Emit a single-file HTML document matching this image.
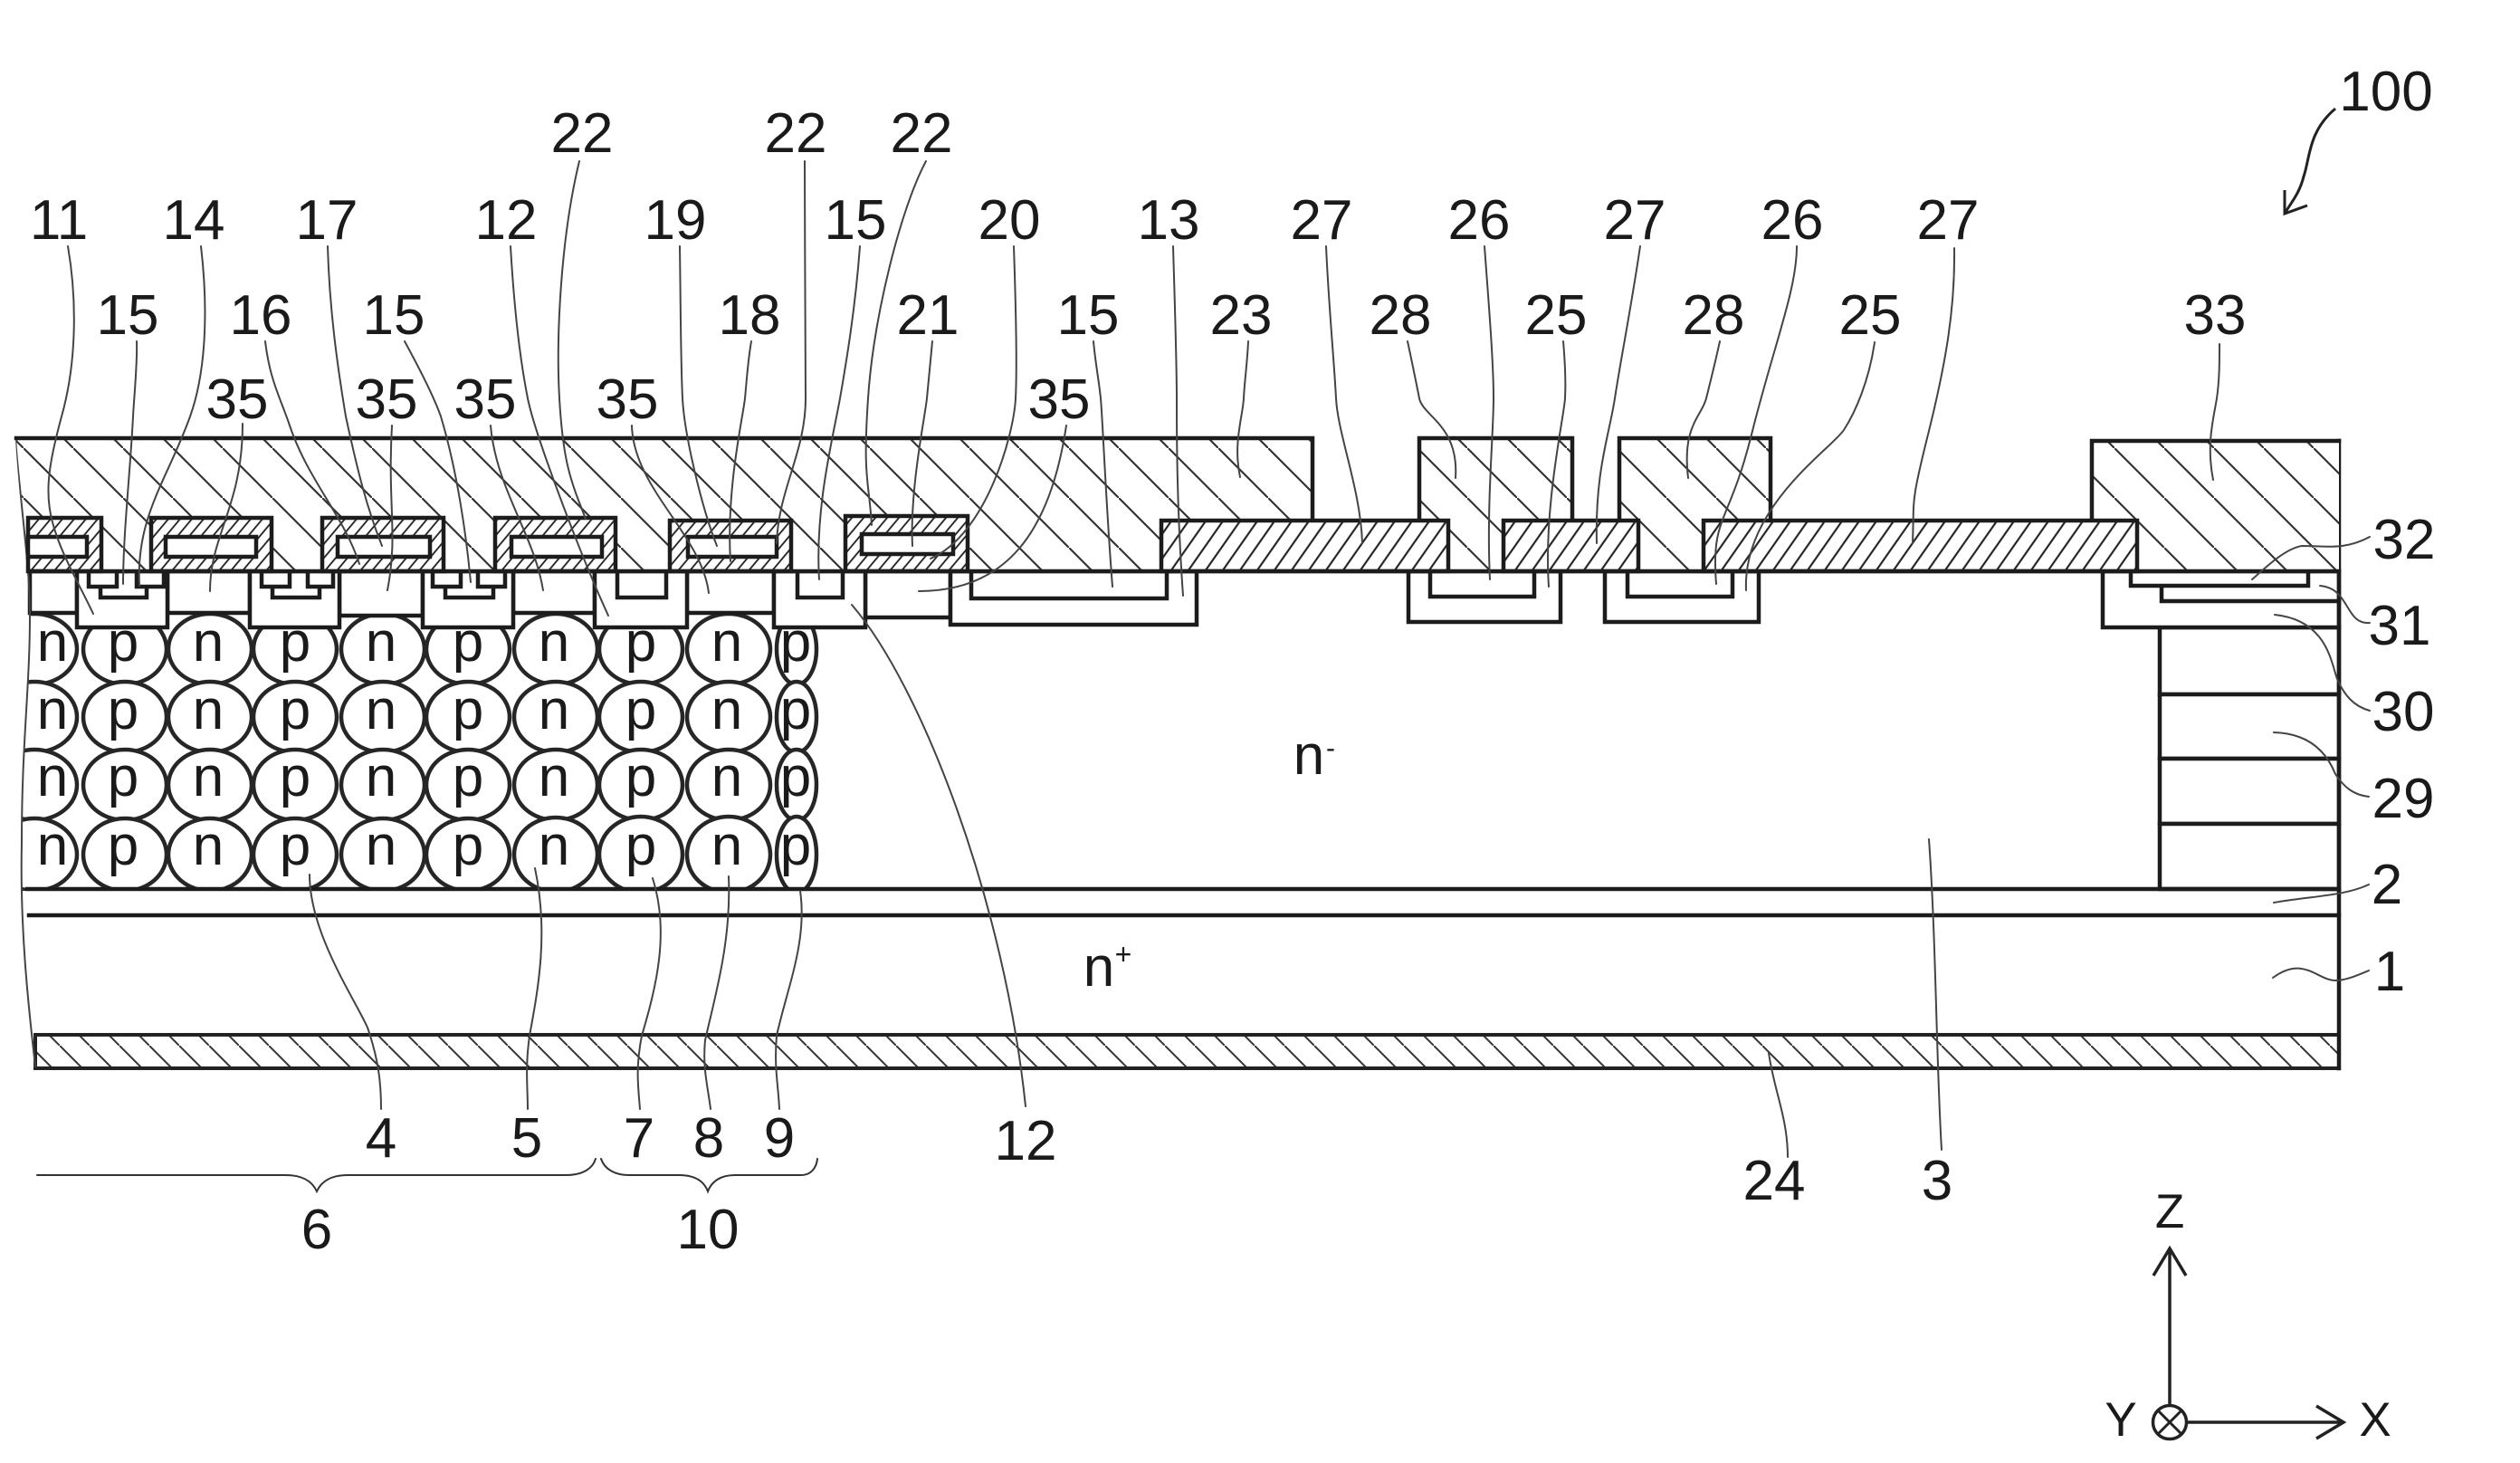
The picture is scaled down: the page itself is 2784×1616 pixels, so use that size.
<!DOCTYPE html>
<html>
<head>
<meta charset="utf-8">
<title>Semiconductor device cross-section</title>
<style>
html,body{margin:0;padding:0;background:#fff}
svg{display:block}
text{font-family:"Liberation Sans",sans-serif;fill:#1a1a1a}
.l{font-size:62px;text-anchor:middle}
.c{font-size:62px;text-anchor:middle}
.a{font-size:53px;text-anchor:middle}
.m{fill:none;stroke:#1c1c1c;stroke-width:4.5;stroke-linecap:square}
.t{fill:none;stroke:#444;stroke-width:2;stroke-linecap:round}
.b{fill:#fff;stroke:#1c1c1c;stroke-width:4.5}
.o{fill:#fff;stroke:#262626;stroke-width:4.5}
</style>
</head>
<body>
<svg xmlns="http://www.w3.org/2000/svg" width="2784" height="1616" viewBox="0 0 2784 1616">
<defs>
<pattern id="h1" patternUnits="userSpaceOnUse" width="55" height="55" patternTransform="translate(26,0)">
<rect width="55" height="55" fill="#fff"/>
<path d="M-5,-5 L60,60" stroke="#333" stroke-width="2.2"/>
</pattern>
<pattern id="h2" patternUnits="userSpaceOnUse" width="19" height="19" patternTransform="skewX(-35)">
<rect width="19" height="19" fill="#fff"/>
<path d="M6,-1 V20" stroke="#222" stroke-width="2.6"/>
</pattern>
<pattern id="h3" patternUnits="userSpaceOnUse" width="13" height="13" patternTransform="skewX(-40)">
<rect width="13" height="13" fill="#fff"/>
<path d="M4,-1 V14" stroke="#222" stroke-width="2.4"/>
</pattern>
<pattern id="h4" patternUnits="userSpaceOnUse" width="33" height="33">
<rect width="33" height="33" fill="#fff"/>
<path d="M-3,-3 L36,36" stroke="#333" stroke-width="2"/>
</pattern>
</defs>
<rect width="2784" height="1616" fill="#fff"/>

<!-- super-junction circles -->
<g class="o">
<ellipse class="o" cx="38" cy="717" rx="47" ry="39"/><ellipse class="o" cx="138" cy="717" rx="46" ry="39"/><ellipse class="o" cx="232" cy="717" rx="46" ry="39"/><ellipse class="o" cx="326" cy="717" rx="46" ry="39"/><ellipse class="o" cx="423" cy="717" rx="46" ry="39"/><ellipse class="o" cx="517" cy="717" rx="46" ry="39"/><ellipse class="o" cx="614" cy="717" rx="46" ry="39"/><ellipse class="o" cx="708" cy="717" rx="46" ry="39"/><ellipse class="o" cx="805" cy="717" rx="46" ry="39"/><ellipse class="o" cx="880" cy="717" rx="22" ry="39"/>
<ellipse class="o" cx="38" cy="792" rx="47" ry="39"/><ellipse class="o" cx="138" cy="792" rx="46" ry="39"/><ellipse class="o" cx="232" cy="792" rx="46" ry="39"/><ellipse class="o" cx="326" cy="792" rx="46" ry="39"/><ellipse class="o" cx="423" cy="792" rx="46" ry="39"/><ellipse class="o" cx="517" cy="792" rx="46" ry="39"/><ellipse class="o" cx="614" cy="792" rx="46" ry="39"/><ellipse class="o" cx="708" cy="792" rx="46" ry="39"/><ellipse class="o" cx="805" cy="792" rx="46" ry="39"/><ellipse class="o" cx="880" cy="792" rx="22" ry="39"/>
<ellipse class="o" cx="38" cy="867" rx="47" ry="39"/><ellipse class="o" cx="138" cy="867" rx="46" ry="39"/><ellipse class="o" cx="232" cy="867" rx="46" ry="39"/><ellipse class="o" cx="326" cy="867" rx="46" ry="39"/><ellipse class="o" cx="423" cy="867" rx="46" ry="39"/><ellipse class="o" cx="517" cy="867" rx="46" ry="39"/><ellipse class="o" cx="614" cy="867" rx="46" ry="39"/><ellipse class="o" cx="708" cy="867" rx="46" ry="39"/><ellipse class="o" cx="805" cy="867" rx="46" ry="39"/><ellipse class="o" cx="880" cy="867" rx="22" ry="39"/>
<ellipse class="o" cx="38" cy="944" rx="47" ry="40"/><ellipse class="o" cx="138" cy="944" rx="46" ry="40"/><ellipse class="o" cx="232" cy="944" rx="46" ry="40"/><ellipse class="o" cx="326" cy="944" rx="46" ry="40"/><ellipse class="o" cx="423" cy="944" rx="46" ry="40"/><ellipse class="o" cx="517" cy="944" rx="46" ry="40"/><ellipse class="o" cx="614" cy="944" rx="46" ry="41"/><ellipse class="o" cx="708" cy="944" rx="46" ry="42"/><ellipse class="o" cx="805" cy="944" rx="46" ry="42"/><ellipse class="o" cx="880" cy="944" rx="22" ry="42"/>
</g>

<!-- left mask -->
<path d="M0,470 H18 C22,560 33,620 33,680 C33,760 24,820 24,930 C22,1020 30,1100 39,1178 V1200 H0 Z" fill="#fff"/>
<rect x="24" y="984" width="2560" height="26" fill="#fff"/>

<!-- body blocks -->
<rect class="b" x="33" y="631" width="52" height="46"/>
<rect class="b" x="185" y="631" width="91" height="46"/>
<rect class="b" x="375" y="631" width="92" height="49"/>
<rect class="b" x="567" y="631" width="90" height="46"/>
<rect class="b" x="759" y="631" width="96" height="46"/>
<rect class="b" x="956" y="631" width="94" height="51"/>
<rect class="b" x="85" y="631" width="100" height="62"/>
<rect class="b" x="276" y="631" width="99" height="62"/>
<rect class="b" x="467" y="631" width="100" height="62"/>
<rect class="b" x="657" y="631" width="102" height="62"/>
<rect class="b" x="855" y="631" width="101" height="62"/>
<rect class="b" x="1050" y="631" width="272" height="59"/>
<rect class="b" x="1073" y="631" width="216" height="30"/>
<rect class="b" x="1556" y="631" width="168" height="56"/>
<rect class="b" x="1580" y="631" width="115" height="28"/>
<rect class="b" x="1773" y="631" width="170" height="56"/>
<rect class="b" x="1798" y="631" width="116" height="28"/>
<rect class="b" x="682" y="631" width="54" height="29"/>
<rect class="b" x="881" y="631" width="50" height="29"/>

<!-- source contact regions -->
<path class="m" d="M98,631 V648 H129 V631 M151,631 V648 H181 V631 M111,648 V660 H162 V648"/>
<path class="m" d="M289,631 V648 H320 V631 M340,631 V648 H368 V631 M301,648 V660 H353 V648"/>
<path class="m" d="M478,631 V648 H509 V631 M528,631 V648 H558 V631 M492,648 V660 H545 V648"/>

<!-- right termination -->
<rect class="b" x="2386" y="693" width="198" height="74"/>
<rect class="b" x="2386" y="767" width="198" height="71"/>
<rect class="b" x="2386" y="838" width="198" height="72"/>
<rect class="b" x="2386" y="910" width="198" height="72"/>
<rect class="b" x="2323" y="631" width="261" height="62"/>
<path class="m" d="M2354,631 V647 H2550 V631 M2388,647 V664 H2584"/>

<!-- layers -->
<path class="m" d="M30,982 H2584 M32,1011 H2584"/>
<rect x="39" y="1143" width="2545" height="37" fill="url(#h4)" stroke="#222" stroke-width="4"/>
<path d="M2584,487 V1180" class="m" stroke-width="5"/>
<path class="t" d="M18,484 C22,560 33,620 33,680 C33,760 24,820 24,930 C22,1020 30,1100 39,1178" stroke-width="2.4"/>

<!-- electrode 23 and metal -->
<path d="M18,484 H1450 V575 H1283 V631 H33 C31,600 22,540 18,484 Z" fill="url(#h1)"/>
<path class="m" d="M18,484 H1450 V575"/>
<path d="M1568,484 H1737 V575 H1661 V631 H1600 V575 H1568 Z" fill="url(#h1)"/>
<path class="m" d="M1568,575 V484 H1737 V575"/>
<path d="M1789,484 H1956 V575 H1882 V631 H1810 V575 H1789 Z" fill="url(#h1)"/>
<path class="m" d="M1789,575 V484 H1956 V575"/>
<path d="M2311,487 H2584 V631 H2361 V575 H2311 Z" fill="url(#h1)"/>
<path class="m" d="M2311,575 V487 H2584"/>

<!-- hatched 27 -->
<rect x="1283" y="575" width="317" height="56" fill="url(#h2)" stroke="#1c1c1c" stroke-width="4.5"/>
<rect x="1661" y="575" width="149" height="56" fill="url(#h2)" stroke="#1c1c1c" stroke-width="4.5"/>
<rect x="1882" y="575" width="479" height="56" fill="url(#h2)" stroke="#1c1c1c" stroke-width="4.5"/>

<!-- gates -->
<g stroke="#1c1c1c" stroke-width="4.5">
<path d="M31,631 V572 H112 V631 Z" fill="url(#h3)"/><rect x="31" y="593" width="65" height="22" fill="#fff"/>
<rect x="167" y="572" width="133" height="59" fill="url(#h3)"/><rect x="183" y="593" width="100" height="22" fill="#fff"/>
<rect x="356" y="572" width="134" height="59" fill="url(#h3)"/><rect x="373" y="593" width="102" height="22" fill="#fff"/>
<rect x="547" y="572" width="133" height="59" fill="url(#h3)"/><rect x="565" y="593" width="100" height="22" fill="#fff"/>
<rect x="740" y="575" width="134" height="56" fill="url(#h3)"/><rect x="760" y="593" width="98" height="22" fill="#fff"/>
<rect x="934" y="570" width="135" height="61" fill="url(#h3)"/><rect x="952" y="590" width="101" height="22" fill="#fff"/>
</g>
<path class="m" d="M33,631 H2584"/>

<!-- leader lines -->
<g class="t">
<path d="M75,272 C85,330 85,400 68,460 C52,520 48,550 62,590 C72,620 90,650 103,678"/>
<path d="M151,377 C152,400 148,440 147,460 C144,520 136,590 136,645"/>
<path d="M222,272 C230,340 228,410 210,460 C185,530 150,570 154,647"/>
<path d="M293,377 C298,420 310,440 320,470 C340,530 380,570 397,623"/>
<path d="M362,272 C364,340 372,400 382,460 C395,520 405,560 422,603"/>
<path d="M433,470 C428,560 440,590 428,652"/>
<path d="M447,377 C465,410 480,440 487,460 C505,520 515,590 520,643"/>
<path d="M268,468 C268,560 232,590 232,653"/>
<path d="M542,470 C548,540 590,590 600,652"/>
<path d="M564,272 C568,340 575,400 583,440 S640,610 672,680"/>
<path d="M640,178 C620,260 614,370 618,440 S630,530 647,573"/>
<path d="M698,470 C700,540 775,590 783,655"/>
<path d="M751,272 C752,340 752,400 754,440 S775,560 792,603"/>
<path d="M830,377 C826,400 825,420 823,440 S802,540 807,620"/>
<path d="M889,178 C889,260 890,380 890,440 S860,540 858,600"/>
<path d="M950,272 C945,340 935,400 928,440 S900,560 905,640"/>
<path d="M1023,178 C995,230 965,350 959,440 S960,530 963,580"/>
<path d="M1030,377 C1028,400 1026,420 1024,440 S1005,540 1008,603"/>
<path d="M1120,272 C1122,330 1124,400 1122,440 S1090,590 1028,617"/>
<path d="M1178,470 C1160,590 1110,653 1015,653"/>
<path d="M1208,377 C1210,400 1214,420 1216,440 S1222,560 1229,648"/>
<path d="M1296,272 C1298,340 1300,400 1300,440 S1300,560 1307,658"/>
<path d="M941,668 C1020,760 1110,1000 1133,1222"/>
<path d="M1379,377 C1378,400 1375,420 1374,440 S1362,490 1370,527"/>
<path d="M1465,272 C1468,340 1474,400 1476,440 S1503,540 1505,600"/>
<path d="M1555,377 C1560,400 1564,420 1568,440 S1612,470 1608,528"/>
<path d="M1640,272 C1645,340 1650,400 1650,440 S1642,560 1646,640"/>
<path d="M1727,377 C1729,400 1730,420 1729,440 S1705,560 1711,648"/>
<path d="M1812,272 C1802,340 1790,400 1784,440 S1762,520 1764,600"/>
<path d="M1900,377 C1895,400 1890,420 1885,440 S1858,470 1865,528"/>
<path d="M1985,272 C1985,320 1960,380 1935,480 S1890,570 1896,645"/>
<path d="M2071,378 C2065,420 2050,455 2037,475 S1925,560 1929,652"/>
<path d="M2159,274 C2160,340 2150,400 2130,480 S2115,550 2113,600"/>
<path d="M2452,380 C2452,400 2452,420 2449,440 S2437,490 2445,530"/>
<path d="M2618,593 C2590,608 2570,603 2543,603 C2525,606 2505,625 2488,640"/>
<path d="M2618,688 C2590,690 2597,650 2563,647"/>
<path d="M2513,679 C2570,685 2575,730 2582,750 C2590,768 2600,780 2618,785"/>
<path d="M2512,809 C2550,810 2570,830 2580,855 C2590,870 2600,878 2617,880"/>
<path d="M2512,997 C2550,990 2590,990 2617,977"/>
<path d="M2511,1080 C2545,1055 2560,1083 2580,1083 C2592,1083 2605,1077 2617,1072"/>
<path d="M2131,927 C2139,1040 2139,1170 2145,1270"/>
<path d="M1954,1163 C1960,1205 1975,1235 1975,1278"/>
<path d="M342,966 C342,1030 390,1100 406,1135 C418,1170 421,1195 421,1225"/>
<path d="M591,959 C606,1030 595,1090 585,1144 C580,1180 583,1200 583,1225"/>
<path d="M721,970 C740,1030 725,1090 709,1144 C702,1180 705,1200 707,1225"/>
<path d="M805,968 C808,1040 790,1100 779,1149 C776,1180 782,1200 785,1225"/>
<path d="M884,984 C892,1040 870,1090 858,1144 C855,1180 860,1200 861,1225"/>
<!-- braces -->
<path d="M41,1298 H315 C335,1298 345,1305 350,1316 C355,1305 365,1298 385,1298 H625 C645,1298 655,1290 658,1280" stroke="#333"/>
<path d="M664,1280 C668,1292 680,1298 695,1298 H750 C768,1298 778,1305 782,1316 C786,1305 796,1298 812,1298 H885 C896,1298 902,1290 903,1280" stroke="#333"/>
</g>

<!-- 100 arrow -->
<path d="M2580,120 C2550,145 2552,175 2545,195 C2540,215 2530,225 2524,236 M2524,210 V236 L2549,227" fill="none" stroke="#222" stroke-width="3"/>

<!-- axes -->
<path d="M2397,1552 V1379 M2379,1409 L2397,1379 L2415,1409" fill="none" stroke="#222" stroke-width="3.5"/>
<path d="M2416,1571 H2589 M2559,1553 L2589,1571 L2559,1589" fill="none" stroke="#222" stroke-width="3.5"/>
<circle cx="2397" cy="1571" r="18.5" fill="#fff" stroke="#222" stroke-width="3.5"/>
<path d="M2384,1558 L2410,1584 M2410,1558 L2384,1584" stroke="#222" stroke-width="3"/>
<text class="a" x="2397" y="1356">Z</text>
<text class="a" x="2343" y="1586">Y</text>
<text class="a" x="2624" y="1586">X</text>

<!-- circle letters -->
<g class="c">
<text class="c" x="58" y="730">n</text><text class="c" x="136" y="730">p</text><text class="c" x="230" y="730">n</text><text class="c" x="326" y="730">p</text><text class="c" x="421" y="730">n</text><text class="c" x="517" y="730">p</text><text class="c" x="612" y="730">n</text><text class="c" x="708" y="730">p</text><text class="c" x="803" y="730">n</text><text class="c" x="879" y="730">p</text>
<text class="c" x="58" y="805">n</text><text class="c" x="136" y="805">p</text><text class="c" x="230" y="805">n</text><text class="c" x="326" y="805">p</text><text class="c" x="421" y="805">n</text><text class="c" x="517" y="805">p</text><text class="c" x="612" y="805">n</text><text class="c" x="708" y="805">p</text><text class="c" x="803" y="805">n</text><text class="c" x="879" y="805">p</text>
<text class="c" x="58" y="879">n</text><text class="c" x="136" y="879">p</text><text class="c" x="230" y="879">n</text><text class="c" x="326" y="879">p</text><text class="c" x="421" y="879">n</text><text class="c" x="517" y="879">p</text><text class="c" x="612" y="879">n</text><text class="c" x="708" y="879">p</text><text class="c" x="803" y="879">n</text><text class="c" x="879" y="879">p</text>
<text class="c" x="58" y="955">n</text><text class="c" x="136" y="955">p</text><text class="c" x="230" y="955">n</text><text class="c" x="326" y="955">p</text><text class="c" x="421" y="955">n</text><text class="c" x="517" y="955">p</text><text class="c" x="612" y="955">n</text><text class="c" x="708" y="955">p</text><text class="c" x="803" y="955">n</text><text class="c" x="879" y="955">p</text>
</g>

<!-- region labels -->
<text class="c" x="1446" y="855">n</text><text x="1470" y="836" style="font-size:30px;text-anchor:middle">-</text>
<text class="c" x="1214" y="1089">n</text><text x="1241" y="1065" style="font-size:32px;text-anchor:middle">+</text>

<!-- reference numerals -->
<g>
<text class="l" x="643" y="168">22</text><text class="l" x="879" y="168">22</text><text class="l" x="1018" y="168">22</text>
<text class="l" x="65" y="264">11</text><text class="l" x="214" y="264">14</text><text class="l" x="361" y="264">17</text><text class="l" x="559" y="264">12</text><text class="l" x="746" y="264">19</text><text class="l" x="945" y="264">15</text><text class="l" x="1115" y="264">20</text><text class="l" x="1291" y="264">13</text><text class="l" x="1460" y="264">27</text><text class="l" x="1634" y="264">26</text><text class="l" x="1806" y="264">27</text><text class="l" x="1980" y="264">26</text><text class="l" x="2152" y="264">27</text>
<text class="l" x="141" y="369">15</text><text class="l" x="288" y="369">16</text><text class="l" x="435" y="369">15</text><text class="l" x="828" y="369">18</text><text class="l" x="1025" y="369">21</text><text class="l" x="1202" y="369">15</text><text class="l" x="1371" y="369">23</text><text class="l" x="1547" y="369">28</text><text class="l" x="1719" y="369">25</text><text class="l" x="1893" y="369">28</text><text class="l" x="2066" y="369">25</text><text class="l" x="2447" y="369">33</text>
<text class="l" x="262" y="462">35</text><text class="l" x="427" y="462">35</text><text class="l" x="536" y="462">35</text><text class="l" x="693" y="462">35</text><text class="l" x="1170" y="462">35</text>
<text class="l" x="2636" y="122">100</text>
<text class="l" x="2656" y="617">32</text><text class="l" x="2651" y="712">31</text><text class="l" x="2655" y="807">30</text><text class="l" x="2655" y="903">29</text><text class="l" x="2637" y="998">2</text><text class="l" x="2640" y="1094">1</text>
<text class="l" x="421" y="1278">4</text><text class="l" x="582" y="1278">5</text><text class="l" x="706" y="1278">7</text><text class="l" x="783" y="1278">8</text><text class="l" x="861" y="1278">9</text><text class="l" x="1133" y="1281">12</text>
<text class="l" x="1960" y="1325">24</text><text class="l" x="2140" y="1325">3</text>
<text class="l" x="350" y="1379">6</text><text class="l" x="782" y="1379">10</text>
</g>
</svg>
</body>
</html>
